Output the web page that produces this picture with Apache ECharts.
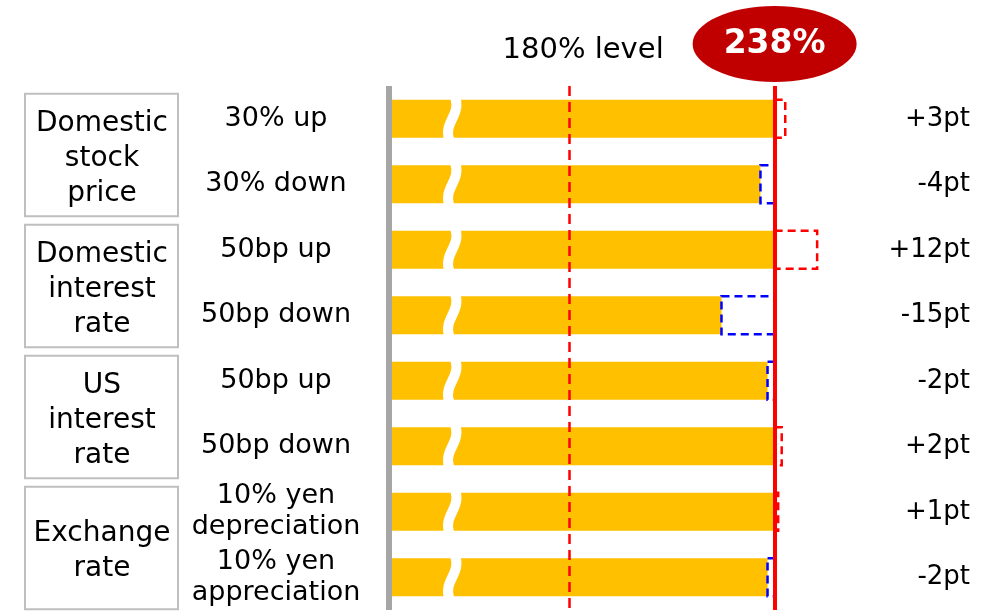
<!DOCTYPE html>
<html>
<head>
<meta charset="utf-8">
<script src="https://cdn.jsdelivr.net/npm/echarts@6/dist/echarts.min.js"></script>
<style>
  html, body { margin: 0; padding: 0; background: #fff; }
  #main { width: 1000px; height: 613px; }
</style>
</head>
<body>
<div id="main"></div>
<script>
// data
var baseLevel = 238;     // current ratio (%)
var refLevel = 180;      // dashed reference line
var breakAt = 147;       // where the axis break is drawn on the bars
var subLabels = ['30% up', '30% down', '50bp up', '50bp down', '50bp up', '50bp down',
  '10% yen\ndepreciation', '10% yen\nappreciation'];
var deltas = [3, -4, 12, -15, -2, 2, 1, -2];
var groupNames = ['Domestic\nstock\nprice', 'Domestic\ninterest\nrate', 'US\ninterest\nrate', 'Exchange\nrate'];

var font = 'DejaVu Sans';
var barH = 38;

// yellow bar ends at the lower of base / base+delta
var barValues = deltas.map(function (d) { return baseLevel + Math.min(d, 0); });
var rightLabels = deltas.map(function (d) { return (d > 0 ? '+' : '') + d + 'pt'; });
var idx = deltas.map(function (d, i) { return i; });

var chart = echarts.init(document.getElementById('main'));

var option = {
  animation: false,
  grid: { left: 392, right: 112, top: 86, bottom: 3 },
  xAxis: { type: 'value', min: 130, max: 270, show: false },
  yAxis: [
    {
      type: 'category', inverse: true, data: subLabels, offset: 3,
      axisLine: { show: true, lineStyle: { color: '#A6A6A6', width: 6, cap: 'butt' } },
      axisTick: { show: false },
      axisLabel: { interval: 0, hideOverlap: false, align: 'center', margin: 113, fontSize: 27, lineHeight: 31,
        color: '#000', fontFamily: font }
    },
    {
      type: 'category', inverse: true, position: 'right', data: rightLabels,
      axisLine: { show: false }, axisTick: { show: false },
      axisLabel: { interval: 0, align: 'right', margin: 82, fontSize: 26, color: '#000', fontFamily: font }
    }
  ],
  series: [
    {
      type: 'bar', name: 'ratio', data: barValues, barWidth: barH, z: 2,
      itemStyle: { color: '#FFC000' }, silent: true
    },
    {
      type: 'custom', name: 'change', z: 3, silent: true,
      data: deltas.map(function (d, i) { return [d, i]; }),
      encode: { x: 0, y: 1 },
      renderItem: function (params, api) {
        var d = api.value(0), i = api.value(1);
        var p0 = api.coord([baseLevel, i]);
        var p1 = api.coord([baseLevel + d, i]);
        return {
          type: 'rect',
          shape: { x: Math.min(p0[0], p1[0]), y: p0[1] - barH / 2, width: Math.abs(p1[0] - p0[0]), height: barH },
          style: { fill: null, stroke: d > 0 ? '#FF0000' : '#0000FF', lineWidth: 2.5, lineDash: [8, 5] }
        };
      }
    },
    {
      type: 'custom', name: 'break', z: 4, silent: true,
      data: idx.map(function (i) { return [breakAt, i]; }),
      encode: { x: 0, y: 1 },
      renderItem: function (params, api) {
        var p = api.coord([api.value(0), api.value(1)]);
        var c = p[0], cy = p[1];
        return {
          type: 'bezierCurve',
          shape: {
            x1: c + 3, y1: cy - barH / 2 - 2,
            cpx1: c + 9, cpy1: cy - 4,
            cpx2: c - 9, cpy2: cy + 4,
            x2: c - 3, y2: cy + barH / 2 + 2
          },
          style: { fill: null, stroke: '#fff', lineWidth: 10 }
        };
      },
      markLine: {
        silent: true, symbol: 'none', label: { show: false },
        data: [
          { xAxis: refLevel, lineStyle: { color: '#FF0000', type: [10, 6], width: 2.5 } },
          { xAxis: baseLevel, lineStyle: { color: '#FF0000', type: 'solid', width: 4 } }
        ]
      }
    }
  ]
};
chart.setOption(option);

// annotations placed from the axes
var rowY = function (i) { return chart.convertToPixel({ yAxisIndex: 0 }, i); };
var xOf = function (v) { return chart.convertToPixel({ xAxisIndex: 0 }, v); };
var g = [];
groupNames.forEach(function (name, k) {
  var y0 = rowY(k * 2), y1 = rowY(k * 2 + 1);
  g.push({
    type: 'rect', shape: { x: 25, y: y0 - 25, width: 153, height: y1 - y0 + 57 },
    style: { fill: '#fff', stroke: '#BFBFBF', lineWidth: 2 }
  });
  g.push({
    type: 'text', x: 102, y: (y0 + y1) / 2 + 7,
    style: { text: name, fontSize: 28, lineHeight: 35, fontFamily: font, fill: '#000', align: 'center', verticalAlign: 'middle' }
  });
});
g.push({
  type: 'text', x: xOf(refLevel) + 14, y: 50,
  style: { text: refLevel + '% level', fontSize: 29, fontFamily: font, fill: '#000', align: 'center', verticalAlign: 'middle' }
});
g.push({
  type: 'ellipse', shape: { cx: xOf(baseLevel), cy: 44, rx: 82, ry: 38 },
  style: { fill: '#C00000' }
});
g.push({
  type: 'text', x: xOf(baseLevel), y: 44,
  style: { text: baseLevel + '%', fontSize: 33, fontWeight: 'bold', fontFamily: font, fill: '#fff', align: 'center', verticalAlign: 'middle' }
});
chart.setOption({ graphic: g });
</script>
</body>
</html>
